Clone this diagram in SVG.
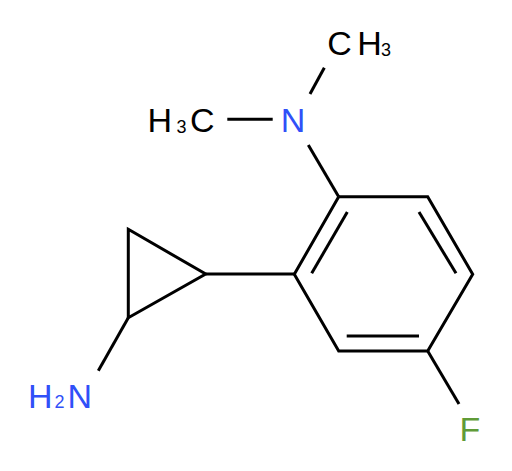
<svg xmlns="http://www.w3.org/2000/svg" width="512" height="471" viewBox="0 0 512 471">
<style>
.b{stroke:#000;stroke-width:3;fill:none;stroke-linecap:butt;stroke-linejoin:miter}
text{font-family:"Liberation Sans",Arial,sans-serif;font-size:34px}
.s{font-size:18px}
.n{fill:#3050F8}
.f{fill:#609b38}
.c{fill:#000}
</style>
<rect width="512" height="471" fill="#fff"/>
<g id="bonds">
<polyline class="b" points="338.7,196.7 427.7,196.7 472.7,274.3 427.7,351 338.7,351 294.3,274.3 338.7,196.7"/>
<line class="b" x1="311.7" y1="273.3" x2="347.3" y2="212"/>
<line class="b" x1="419" y1="212" x2="456" y2="273.3"/>
<line class="b" x1="346.7" y1="336" x2="419" y2="336"/>
<line class="b" x1="427.7" y1="351" x2="459" y2="404"/>
<line class="b" x1="308.3" y1="145" x2="338.7" y2="196.7"/>
<line class="b" x1="310" y1="94" x2="324.3" y2="67.7"/>
<line class="b" x1="227.3" y1="119.3" x2="272.7" y2="119.3"/>
<polygon class="b" points="128.3,229.3 205.7,274 128.3,317.7"/>
<line class="b" x1="205.7" y1="274" x2="294.3" y2="274"/>
<line class="b" x1="128.3" y1="317.7" x2="98.3" y2="370.7"/>
</g>
<g id="N1"><text class="n" x="280.7" y="131.7">N</text></g>
<g id="Me1"><text class="c" x="147.5" y="132">H</text><text class="c s" x="176.5" y="133">3</text><text class="c" x="190" y="132">C</text></g>
<g id="Me2"><text class="c" x="327.3" y="55">C</text><text class="c" x="357.3" y="55">H</text><text class="c s" x="381" y="55.7">3</text></g>
<g id="NH2"><text class="n" x="28" y="407.5">H</text><text class="n s" x="54.5" y="408.3">2</text><text class="n" x="67.4" y="407.5">N</text></g>
<g id="F"><text class="f" x="459.5" y="441">F</text></g>
</svg>
